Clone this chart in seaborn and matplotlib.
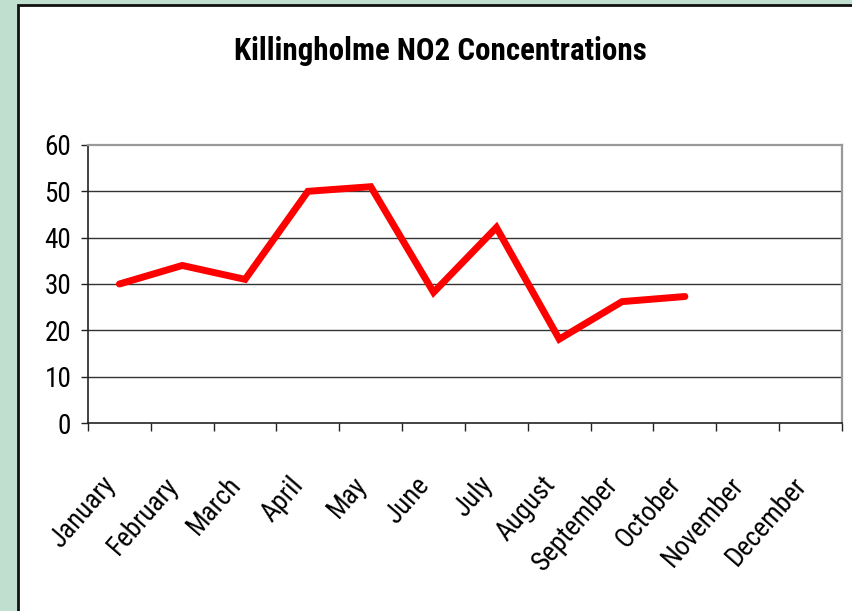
import matplotlib
matplotlib.use("Agg")
import matplotlib.pyplot as plt
from matplotlib.patches import Rectangle
from matplotlib.transforms import ScaledTranslation
import seaborn as sns
import numpy as np
import pandas as pd

months = ["January", "February", "March", "April", "May", "June", "July",
          "August", "September", "October", "November", "December"]
measured_months = months[:10]
no2 = [30, 34, 31, 50, 51, 28.2, 42.2, 18.1, 26.2, 27.3]
title = "Killingholme NO2 Concentrations"
yticks = [0, 10, 20, 30, 40, 50, 60]

sns.set_theme(style="white")
font = ["Roboto Condensed", "Liberation Sans", "DejaVu Sans"]
plt.rcParams["font.family"] = font
plt.rcParams["text.color"] = "black"
plt.rcParams["xtick.color"] = "black"
plt.rcParams["ytick.color"] = "black"

W, H = 853, 611
fig = plt.figure(figsize=(W / 100, H / 100), dpi=100, facecolor="#c0dfcf")
# white chart box with black border
box = Rectangle((18 / W, -0.05), 1.2, (611 - 5) / H + 0.05,
                transform=fig.transFigure, facecolor="white",
                edgecolor="#111111", linewidth=2, zorder=-5)
fig.add_artist(box)

ax = fig.add_axes([88 / W, (611 - 423) / H, (842 - 88) / W, (423 - 145) / H])
ax.set_zorder(5)
ax.set_facecolor("white")

df = pd.DataFrame({"pos": np.arange(len(measured_months)), "no2": no2})
sns.lineplot(data=df, x="pos", y="no2", ax=ax, color="#ff0000", linewidth=5,
             solid_capstyle="round", solid_joinstyle="miter", zorder=5)

ax.set_xlim(-0.5, len(months) - 0.5)
ax.set_ylim(0, 60)
ax.set_yticks(yticks)
ax.set_yticklabels([str(v) for v in yticks], fontsize=19.5, color="black")
ax.set_xticks(np.arange(len(months)))
ax.set_xticklabels(months, rotation=49, ha="right", va="top",
                   rotation_mode="anchor", fontsize=19.5, color="black")
ax.set_xticks(np.arange(len(months) + 1) - 0.5, minor=True)
ax.tick_params(axis="x", which="major", length=0, pad=30)
ax.tick_params(axis="x", which="minor", length=6, width=1, color="#222222",
               direction="out", bottom=True)
ax.tick_params(axis="y", length=5, width=1, color="#222222", direction="out",
               left=True, pad=7)
ax.set_xlabel("")
ax.set_ylabel("")

offset = ScaledTranslation(-19 / 100, -7 / 100, fig.dpi_scale_trans)
for lab in ax.get_xticklabels():
    lab.set_transform(lab.get_transform() + offset)

for y in yticks[1:-1]:
    ax.axhline(y, color="#333333", linewidth=1, zorder=1)

ax.spines["left"].set_color("#222222")
ax.spines["bottom"].set_color("#222222")
ax.spines["left"].set_linewidth(1.2)
ax.spines["bottom"].set_linewidth(1.2)
ax.spines["top"].set_color("#999999")
ax.spines["right"].set_color("#999999")
ax.spines["top"].set_linewidth(1.6)
ax.spines["right"].set_linewidth(1.6)

fig.text(440 / W, 1 - 51 / H, title, ha="center", va="center",
         fontsize=22.3, fontweight="bold", color="black")

fig.savefig("out.png", dpi=100, facecolor=fig.get_facecolor())
